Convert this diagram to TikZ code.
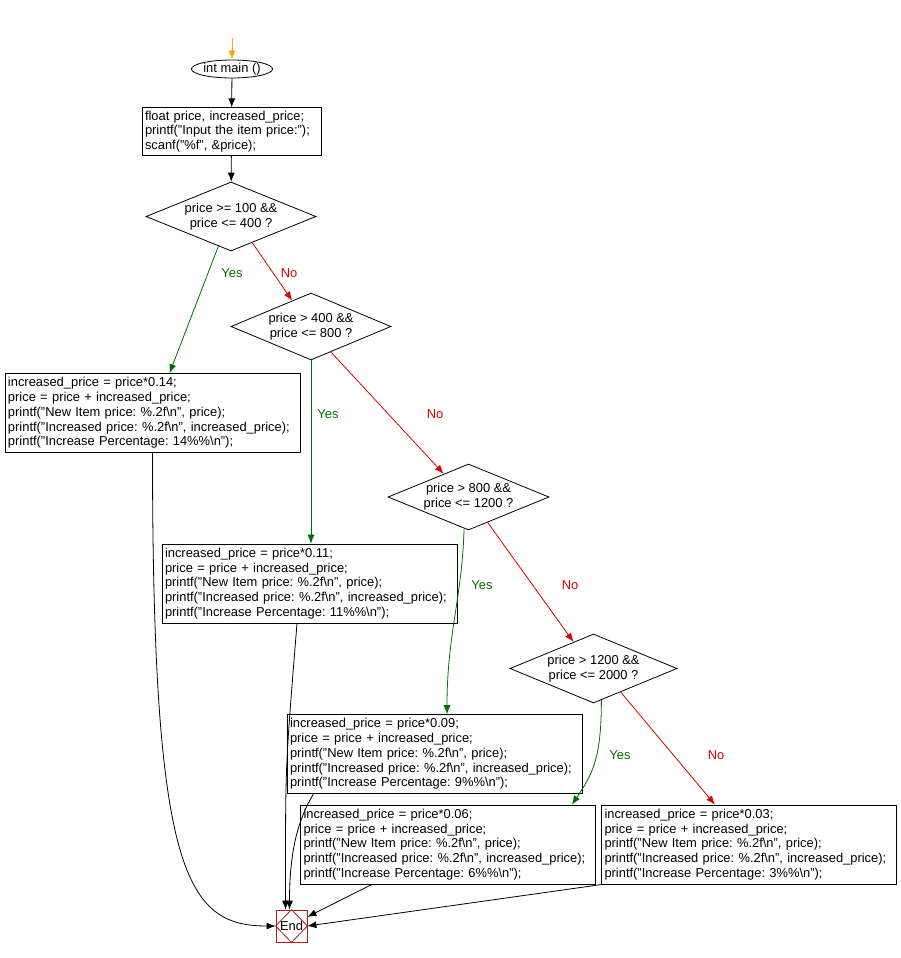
\documentclass[tikz,border=0pt]{standalone}
\usepackage{fontspec}
\setmainfont{Liberation Sans}
\usetikzlibrary{arrows.meta,shapes.geometric}

\definecolor{yesgreen}{RGB}{0,110,0}
\definecolor{nored}{RGB}{220,0,0}
\definecolor{startorange}{RGB}{255,165,0}
\definecolor{endred}{RGB}{170,30,30}
\frenchspacing

\begin{document}
\begin{tikzpicture}[x=1pt,y=-1pt,line width=0.8pt,
  font=\fontsize{12.9}{14.7}\selectfont,
  stmt/.style={draw, align=left, text width=289pt, inner xsep=3pt, inner ysep=4pt},
  cond/.style={draw, diamond, aspect=2.4, inner sep=0pt, align=center},
  flow/.style={-{Latex[length=9pt,width=7pt]}},
  yesline/.style={flow, yesgreen},
  noline/.style={flow, nored},
  yeslbl/.style={text=yesgreen},
  nolbl/.style={text=nored}]

\useasboundingbox (0,0) rectangle (900,958);

% Start
\coordinate (top) at (232,38);
\node[draw, ellipse, inner sep=0pt, minimum width=76pt, minimum height=18pt] (main) at (232,69) {int main ()};
\node[draw, align=left, text width=173pt, inner xsep=3pt, inner ysep=3pt] (init) at (231.5,131.5)
  {float price, increased\_price;\\printf("Input the item price:");\\scanf("\%f", \&price);};

% Conditions
\node[cond, minimum width=170pt, minimum height=69pt] (d1) at (231,216.5) {price >= 100 \&\&\\price <= 400 ?};
\node[cond, minimum width=160pt, minimum height=67pt] (d2) at (311,326.5) {price > 400 \&\&\\price <= 800 ?};
\node[cond, minimum width=161pt, minimum height=66pt] (d3) at (468.5,497) {price > 800 \&\&\\price <= 1200 ?};
\node[cond, minimum width=167pt, minimum height=69pt] (d4) at (593.5,668.5) {price > 1200 \&\&\\price <= 2000 ?};

% Statements
\node[stmt] (p14) at (152.5,413) {increased\_price = price*0.14;\\price = price + increased\_price;\\printf("New Item price: \%.2f\textbackslash n", price);\\printf("Increased price: \%.2f\textbackslash n", increased\_price);\\printf("Increase Percentage: 14\%\%\textbackslash n");};
\node[stmt] (p11) at (309.5,583.5) {increased\_price = price*0.11;\\price = price + increased\_price;\\printf("New Item price: \%.2f\textbackslash n", price);\\printf("Increased price: \%.2f\textbackslash n", increased\_price);\\printf("Increase Percentage: 11\%\%\textbackslash n");};
\node[stmt] (p9) at (434.5,754) {increased\_price = price*0.09;\\price = price + increased\_price;\\printf("New Item price: \%.2f\textbackslash n", price);\\printf("Increased price: \%.2f\textbackslash n", increased\_price);\\printf("Increase Percentage: 9\%\%\textbackslash n");};
\node[stmt] (p6) at (448,844.5) {increased\_price = price*0.06;\\price = price + increased\_price;\\printf("New Item price: \%.2f\textbackslash n", price);\\printf("Increased price: \%.2f\textbackslash n", increased\_price);\\printf("Increase Percentage: 6\%\%\textbackslash n");};
\node[stmt] (p3) at (749,844.5) {increased\_price = price*0.03;\\price = price + increased\_price;\\printf("New Item price: \%.2f\textbackslash n", price);\\printf("Increased price: \%.2f\textbackslash n", increased\_price);\\printf("Increase Percentage: 3\%\%\textbackslash n");};

% End
\node[draw=endred, minimum width=31pt, minimum height=32pt, inner sep=0pt] (end) at (291.5,926) {End};
\draw[endred] (end.north) -- (end.east) -- (end.south) -- (end.west) -- cycle;

% Main flow
\draw[flow, startorange] (top) -- (main);
\draw[flow] (main) -- (init);
\draw[flow] (init) -- (d1);

% Branches
\draw[yesline] (d1.247) -- ([xshift=17pt]p14.north);
\draw[noline] (d1.309) -- (d2.126);
\draw[yesline] (d2.south) -- (d2.south |- p11.north);
\draw[noline] (d2.308) -- (d3.137);
\draw[yesline] (d3.262) .. controls +(-2,70) and +(0,-80) .. ([xshift=12.5pt]p9.north);
\draw[noline] (d3.307) -- (d4.127);
\draw[yesline] (d4.284) .. controls +(0,60) and +(20,-30) .. ([xshift=-24pt]p6.north east);
\draw[noline] (d4.319) -- ([xshift=-34pt]p3.north);

% Labels
\node[yeslbl] (y1) at (232,273) {Yes};
\node[nolbl] (n1) at (289,273) {No};
\node[yeslbl] (y2) at (328,414) {Yes};
\node[nolbl] (n2) at (435,414) {No};
\node[yeslbl] (y3) at (482,585) {Yes};
\node[nolbl] (n3) at (570,585) {No};
\node[yeslbl] (y4) at (620,755) {Yes};
\node[nolbl] (n4) at (716,755) {No};

% To end
\draw[flow] (p14.south) .. controls +(0,420) and +(-90,0) .. (end.west);
\draw[flow] ([xshift=-12.5pt]p11.south) .. controls +(-12,150) and +(0,-150) .. ([xshift=-6pt]end.north);
\draw[flow] ([xshift=-121pt]p9.south) .. controls +(-15,25) and +(0,-60) .. ([xshift=-2pt]end.north);
\draw[flow] ([xshift=-76pt]p6.south) -- (end.30);
\draw[flow] ([xshift=2pt]p3.south west) -- (end.east);

\end{tikzpicture}
\end{document}
